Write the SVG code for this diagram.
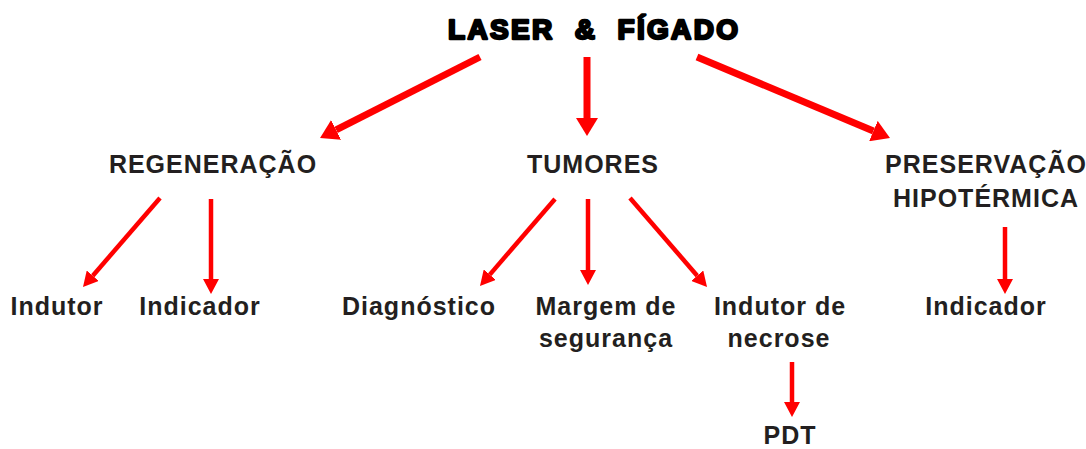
<svg xmlns="http://www.w3.org/2000/svg" width="1086" height="449" viewBox="0 0 1086 449">
<style>
.t{font-family:"Liberation Sans",Arial,sans-serif;font-weight:bold;font-size:25px;letter-spacing:1px;fill:#231f20;text-anchor:middle}
.title{font-family:"Liberation Sans",Arial,sans-serif;font-weight:bold;font-size:28px;fill:#000;stroke:#000;stroke-width:2.4px;stroke-linejoin:round;text-anchor:middle}
.big{stroke:#ff0000;stroke-width:7;fill:none;marker-end:url(#hb)}
.sm{stroke:#ff0000;stroke-width:4.5;fill:none;marker-end:url(#hs)}
</style>
<defs>
<marker id="hb" viewBox="0 0 18 22" refX="0" refY="11" markerUnits="userSpaceOnUse" markerWidth="18" markerHeight="22" orient="auto"><path d="M0,0 L18,11 L0,22 z" fill="#ff0000"/></marker>
<marker id="hs" viewBox="0 0 15 16" refX="0" refY="8" markerUnits="userSpaceOnUse" markerWidth="15" markerHeight="16" orient="auto"><path d="M0,0 L15,8 L0,16 z" fill="#ff0000"/></marker>
</defs>
<rect width="1086" height="449" fill="#fff"/>
<g id="connectors">
<line class="big" x1="480" y1="57" x2="336.1" y2="129.9"/>
<line class="big" x1="587" y1="57" x2="587" y2="118"/>
<line class="big" x1="697" y1="57" x2="873.4" y2="131"/>
<line class="sm" x1="160" y1="198" x2="92.8" y2="275.7"/>
<line class="sm" x1="211" y1="199" x2="211" y2="279"/>
<line class="sm" x1="555" y1="199" x2="489.8" y2="274.6"/>
<line class="sm" x1="588" y1="199" x2="588" y2="270"/>
<line class="sm" x1="630" y1="198" x2="697.2" y2="275.7"/>
<line class="sm" x1="1005" y1="227" x2="1005" y2="279"/>
<line class="sm" x1="792" y1="362" x2="792" y2="402"/>
</g>
<g id="laser-figado"><text class="title" x="593" y="39" textLength="290" lengthAdjust="spacing" xml:space="preserve">LASER  &amp;  FÍGADO</text></g>
<g id="regeneracao"><text class="t" x="213" y="173">REGENERAÇÃO</text></g>
<g id="tumores"><text class="t" x="593" y="173">TUMORES</text></g>
<g id="preservacao"><text class="t" x="986" y="173">PRESERVAÇÃO</text><text class="t" x="986" y="207">HIPOTÉRMICA</text></g>
<g id="indutor"><text class="t" x="57" y="315">Indutor</text></g>
<g id="indicador1"><text class="t" x="200" y="315">Indicador</text></g>
<g id="diagnostico"><text class="t" x="419" y="315">Diagnóstico</text></g>
<g id="margem"><text class="t" x="606" y="315">Margem de</text><text class="t" x="606" y="347">segurança</text></g>
<g id="indutor-necrose"><text class="t" x="780" y="315">Indutor de</text><text class="t" x="779" y="347">necrose</text></g>
<g id="indicador2"><text class="t" x="986" y="315">Indicador</text></g>
<g id="pdt"><text class="t" x="790" y="444">PDT</text></g>
</svg>
